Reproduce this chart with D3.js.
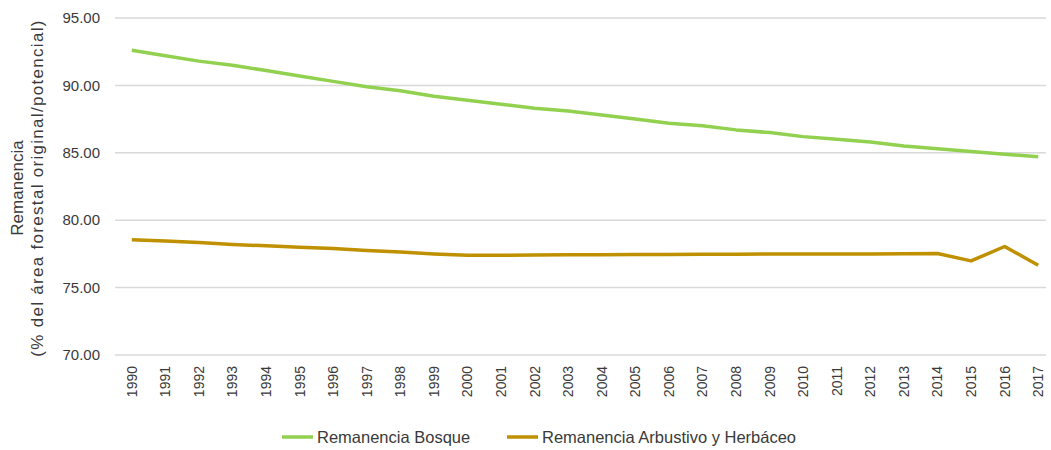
<!DOCTYPE html>
<html>
<head>
<meta charset="utf-8">
<script src="https://cdn.jsdelivr.net/npm/d3@7"></script>
<style>
  body { margin: 0; background: #fff; }
  #svg-container { width: 1051px; height: 450px; }
  text { font-family: "Liberation Sans", Arial, sans-serif; fill: #3a3a3a; }
</style>
</head>
<body>
<div id="svg-container"></div>
<script>
var years = ["1990","1991","1992","1993","1994","1995","1996","1997","1998","1999",
             "2000","2001","2002","2003","2004","2005","2006","2007","2008","2009",
             "2010","2011","2012","2013","2014","2015","2016","2017"];

var bosque = [92.6, 92.2, 91.8, 91.5, 91.1, 90.7, 90.3, 89.9, 89.6, 89.2,
              88.9, 88.6, 88.3, 88.1, 87.8, 87.5, 87.2, 87.0, 86.7, 86.5,
              86.2, 86.0, 85.8, 85.5, 85.3, 85.1, 84.9, 84.7];

var arbustivo = [78.55, 78.45, 78.35, 78.2, 78.1, 78.0, 77.9, 77.75, 77.65, 77.5,
                 77.4, 77.4, 77.42, 77.43, 77.44, 77.45, 77.46, 77.47, 77.48, 77.49,
                 77.5, 77.5, 77.5, 77.52, 77.53, 76.98, 78.05, 76.66];

var yTicks = [70, 75, 80, 85, 90, 95];

var seriesNames = ["Remanencia Bosque", "Remanencia Arbustivo y Herbáceo"];
var seriesColors = ["#92d050", "#bf9000"];

var width = 1051, height = 450;
var margin = { top: 18, right: 0, bottom: 95, left: 115 };

var svg = d3.select("#svg-container")
            .append("svg")
            .attr("width", width)
            .attr("height", height);

var scaleX = d3.scaleBand()
               .domain(years)
               .range([margin.left, 1055]);

var scaleY = d3.scaleLinear()
               .domain([70, 95])
               .range([355, margin.top]);

// gridlines
svg.append("g")
   .selectAll("line")
   .data(yTicks)
   .join("line")
   .attr("x1", margin.left)
   .attr("x2", 1046)
   .attr("y1", function(d) { return scaleY(d); })
   .attr("y2", function(d) { return scaleY(d); })
   .attr("stroke", "#d9d9d9")
   .attr("stroke-width", 1.5);

// y labels
svg.append("g")
   .selectAll("text")
   .data(yTicks)
   .join("text")
   .attr("x", 100)
   .attr("y", function(d) { return scaleY(d); })
   .attr("dy", "0.35em")
   .attr("text-anchor", "end")
   .attr("font-size", 15)
   .text(function(d) { return d.toFixed(2); });

// x labels
svg.append("g")
   .selectAll("text")
   .data(years)
   .join("text")
   .attr("transform", function(d) {
     return "translate(" + (scaleX(d) + scaleX.bandwidth() / 2) + ",366) rotate(-90)";
   })
   .attr("dy", "0.35em")
   .attr("text-anchor", "end")
   .attr("font-size", 14)
   .text(function(d) { return d; });

// axis title
var title = svg.append("text")
   .attr("transform", "translate(23,188) rotate(-90)")
   .attr("text-anchor", "middle")
   .attr("font-size", 17);
title.append("tspan").attr("x", 0).attr("dy", 0).text("Remanencia");
title.append("tspan").attr("x", 0).attr("dy", "1.15em")
     .attr("letter-spacing", 1.3)
     .text("(% del área forestal original/potencial)");

var line = d3.line()
             .x(function(d, i) { return scaleX(years[i]) + scaleX.bandwidth() / 2; })
             .y(function(d) { return scaleY(d); });

[bosque, arbustivo].forEach(function(s, i) {
  svg.append("path")
     .datum(s)
     .attr("fill", "none")
     .attr("stroke", seriesColors[i])
     .attr("stroke-width", 3.5)
     .attr("stroke-linejoin", "round")
     .attr("d", line);
});

// legend
var legendX = [282, 507];
seriesNames.forEach(function(name, i) {
  var g = svg.append("g").attr("transform", "translate(" + legendX[i] + ",437)");
  g.append("line")
   .attr("x1", 0).attr("x2", 31)
   .attr("stroke", seriesColors[i])
   .attr("stroke-width", 3.5);
  g.append("text")
   .attr("x", 35)
   .attr("dy", "0.35em")
   .attr("font-size", 16.5)
   .text(name);
});
</script>
</body>
</html>
